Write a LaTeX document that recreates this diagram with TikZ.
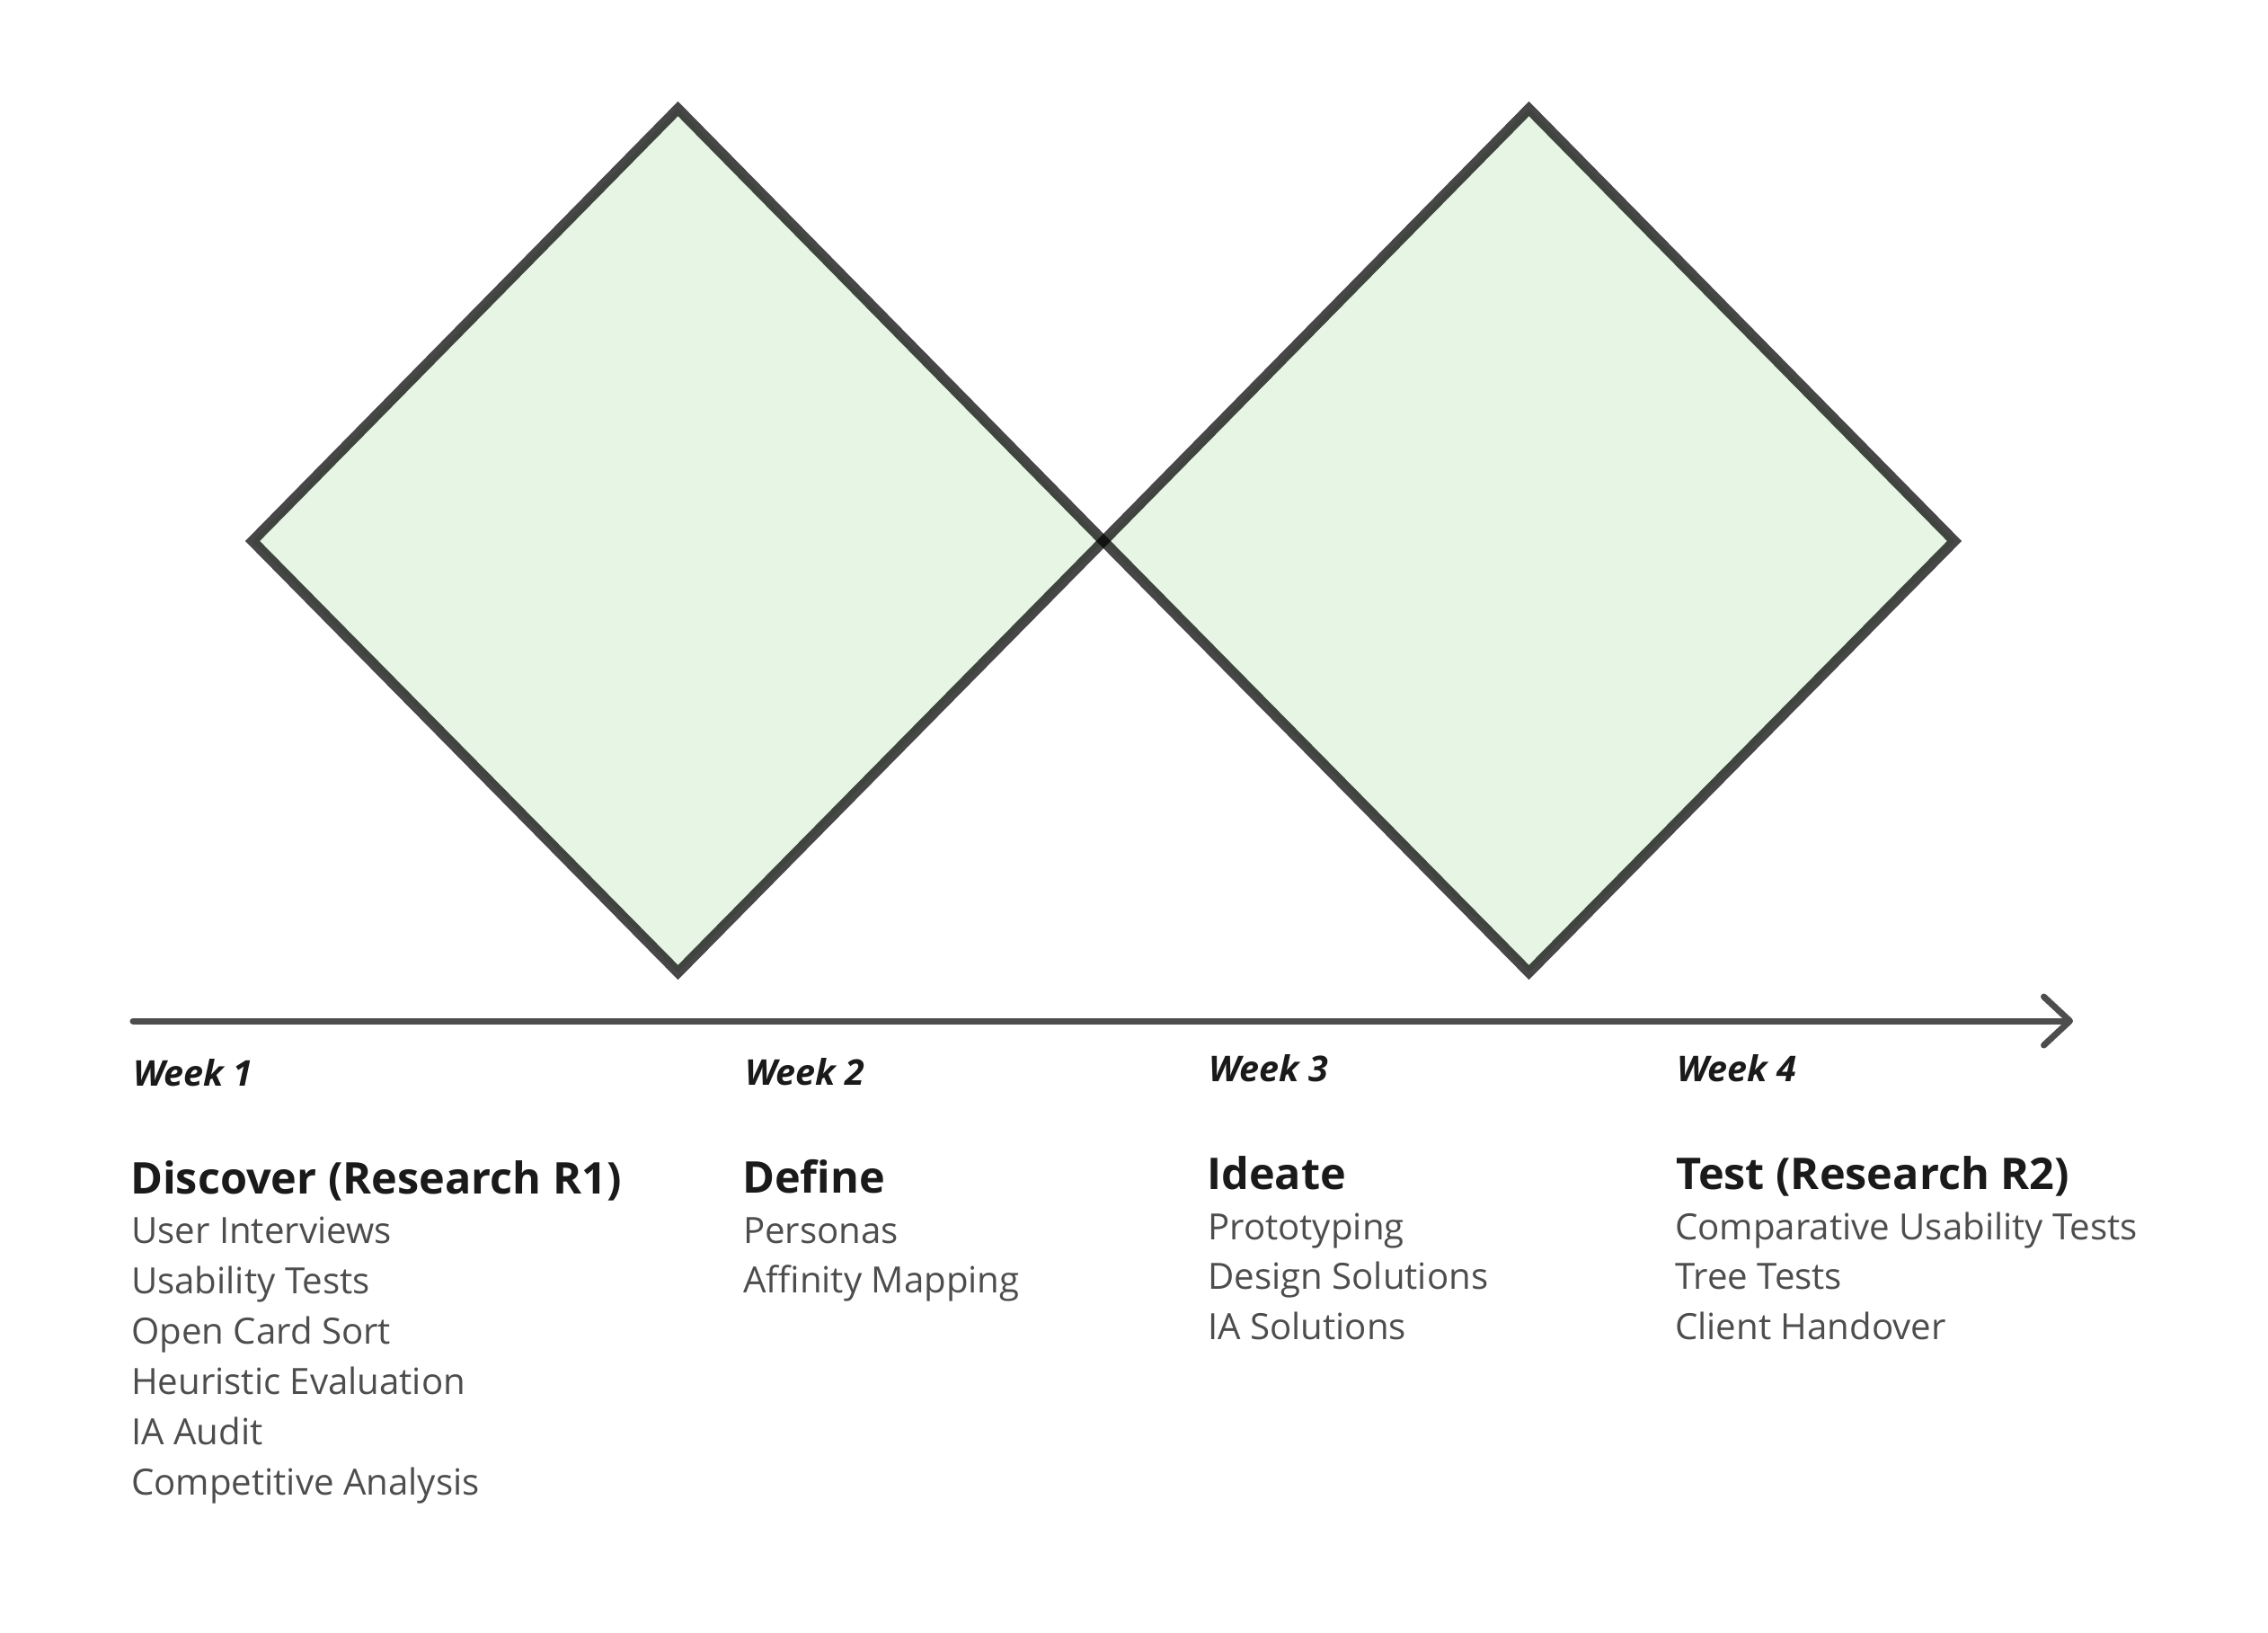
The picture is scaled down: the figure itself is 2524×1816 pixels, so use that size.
\documentclass[tikz,border=0pt]{standalone}
\usepackage{fontspec}
\setmainfont{Open Sans}
\usetikzlibrary{arrows.meta}
\definecolor{fillgreen}{HTML}{E6F5E4}
\definecolor{axisgray}{HTML}{4D4D4D}
\definecolor{headink}{HTML}{1A1A1A}
\definecolor{itemink}{HTML}{4D4D4D}
\tikzset{
  diamondfill/.style={fill=fillgreen},
  diamondline/.style={draw=black, draw opacity=0.72, line width=11.5pt, line join=miter},
  timeline/.style={draw=axisgray, line width=7pt, line cap=round,
    -{Straight Barb[length=29pt, width=54pt, line width=7pt, round]}},
  weeklabel/.style={anchor=base west, inner sep=0pt, text=headink,
    font=\fontsize{39.5}{46}\selectfont\bfseries\itshape},
  phasetitle/.style={anchor=base west, inner sep=0pt, text=headink,
    font=\fontsize{48.6}{56}\selectfont\bfseries},
  itemline/.style={anchor=base west, inner sep=0pt, text=itemink,
    font=\fontsize{40.2}{46}\selectfont},
}
\begin{document}
\begin{tikzpicture}[x=1pt,y=-1pt]
\path[use as bounding box, fill=white] (0,0) rectangle (2524,1816);
% diamond vertices
\coordinate (lw) at (281,602);
\coordinate (lt) at (754.5,121);
\coordinate (mid) at (1228,602);
\coordinate (lb) at (754.5,1082);
\coordinate (rt) at (1701.5,121);
\coordinate (re) at (2175,602);
\coordinate (rb) at (1701.5,1082);
\path[diamondfill] (lw) -- (lt) -- (mid) -- (lb) -- cycle;
\path[diamondfill] (mid) -- (rt) -- (re) -- (rb) -- cycle;
\path[diamondline] (lw) -- (lt) -- (mid) -- (lb) -- cycle;
\path[diamondline] (mid) -- (rt) -- (re) -- (rb) -- cycle;
% timeline
\coordinate (axisstart) at (148,1136);
\coordinate (axisend) at (2307,1136);
\draw[timeline] (axisstart) -- (axisend);
% week 1
\node[weeklabel] (w1) at (148,1208) {Week 1};
\node[phasetitle] (t1) at (145,1328) {Discover (Research R1)};
\foreach \txt [count=\k] in {User Interviews, Usability Tests, Open Card Sort, Heuristic Evaluation, IA Audit, Competitive Analysis}
  \node[itemline] (a\k) at (146,{1383+(\k-1)*56}) {\txt};
% week 2
\node[weeklabel] (w2) at (829,1207) {Week 2};
\node[phasetitle] (t2) at (826,1327) {Define};
\foreach \txt [count=\k] in {Personas, Affinity Mapping}
  \node[itemline] (b\k) at (827,{1383+(\k-1)*55.5}) {\txt};
% week 3
\node[weeklabel] (w3) at (1345,1203) {Week 3};
\node[phasetitle] (t3) at (1343,1323) {Ideate};
\foreach \txt [count=\k] in {Prototyping, Design Solutions, IA Solutions}
  \node[itemline] (c\k) at (1344,{1379+(\k-1)*55.5}) {\txt};
% week 4
\node[weeklabel] (w4) at (1866,1203) {Week 4};
\node[phasetitle] (t4) at (1865,1323) {Test (Research R2)};
\foreach \txt [count=\k] in {Comparative Usability Tests, Tree Tests, Client Handover}
  \node[itemline] (e\k) at (1864,{1379+(\k-1)*55.5}) {\txt};
\end{tikzpicture}
\end{document}
